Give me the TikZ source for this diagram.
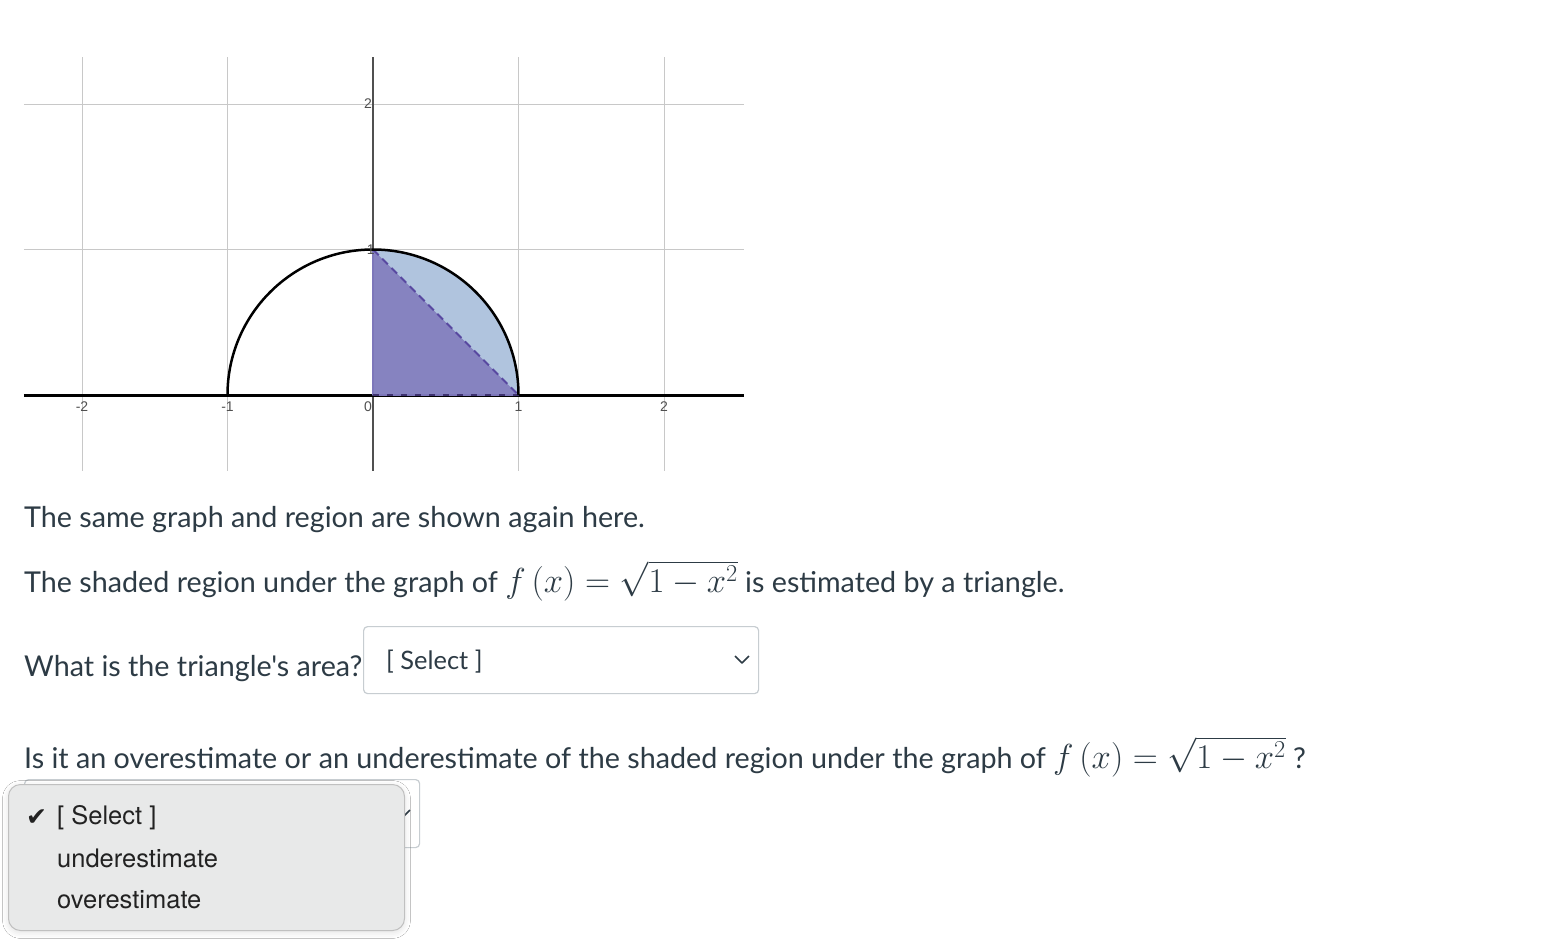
\RequirePackage{fix-cm}
\documentclass[tikz,border=0pt]{standalone}
\usepackage[no-math]{fontspec}
\usepackage{amsmath}
\setmainfont{Lato}[Ligatures=TeXOff]
\newfontfamily\tickfont{Liberation Sans}
\newfontfamily\menufont{TeX Gyre Heros}
\newfontfamily\checkfont{DejaVu Sans}
\usepackage{xcolor}
\usetikzlibrary{shadows.blur}
\definecolor{pagetext}{HTML}{2D3B45}
\definecolor{gridgray}{RGB}{200,200,200}
\definecolor{axisgray}{RGB}{80,80,80}
\definecolor{quartblue}{RGB}{176,196,222}
\definecolor{trifill}{RGB}{134,131,192}
\definecolor{tridash}{RGB}{88,72,160}
\definecolor{boxline}{RGB}{199,205,209}
\definecolor{menufill}{RGB}{232,233,233}
\definecolor{menuline}{RGB}{192,192,192}
\definecolor{menutext}{RGB}{34,34,34}
\tikzset{
  gridline/.style={gridgray, line width=1pt},
  ticklabel/.style={font=\tickfont\fontsize{14}{16}\selectfont, text=axisgray, inner sep=1pt},
  bodytext/.style={font=\fontsize{28.7}{34}\selectfont, text=pagetext, anchor=base west, inner sep=0pt},
  selectbox/.style={draw=boxline, line width=1.2pt, fill=white, rounded corners=4pt, anchor=north west},
  menuitem/.style={font=\menufont\fontsize{25.5}{30}\selectfont, text=menutext, anchor=west, inner sep=0pt}
}
\newcommand{\mathbig}[1]{{\fontsize{34.7}{40}\selectfont\smash{$#1$}}}

\begin{document}
\begin{tikzpicture}[x=1pt, y=-1pt, line join=round]
\useasboundingbox (0,0) rectangle (1554,948);
\fill[white] (0,0) rectangle (1554,948);
% Graph: origin at (373,395), one unit = 145.5px
\begin{scope}[xshift=373pt, yshift=-395pt, x=145.5pt, y=145.5pt]
% grid
\foreach \gx in {-2,-1,1,2}
  \draw[gridline] (\gx,-0.522) -- (\gx,2.323);
\foreach \gy in {1,2}
  \draw[gridline] (-2.399,\gy) -- (2.55,\gy);
% axes
\draw[axisgray, line width=2pt] (0,-0.522) -- (0,2.323);
\draw[black, line width=3pt] (-2.399,0) -- (2.55,0);
% shaded region and triangle
\coordinate (O) at (0,0);
\coordinate (P) at (1,0);
\coordinate (Q) at (0,1);
\fill[quartblue] (O) -- (Q) arc[start angle=90, end angle=0, radius=1] -- cycle;
\fill[trifill] (O) -- (Q) -- (P) -- cycle;
\draw[trifill!80!tridash, line width=2pt] (Q) -- (O) -- (P);
\draw[tridash, line width=2pt, dash pattern=on 8pt off 5pt] (Q) -- (P);
\draw[tridash!70!black, line width=2pt, dash pattern=on 6pt off 8pt] (O) -- (P);
% semicircle
\draw[black, line width=2.5pt] (-1,0) arc[start angle=180, end angle=0, radius=1];
% tick labels
\foreach \tx in {-2,-1,1,2}
  \node[ticklabel] (xt\tx) at (\tx,-0.077) {\tx};
\node[ticklabel, anchor=east] (xt0) at (0,-0.077) {0};
\node[ticklabel, anchor=east] (yt1) at (0.02,1) {1};
\node[ticklabel, anchor=east] (yt2) at (0,2) {2};
\end{scope}
% Question text
\node[bodytext] (sameline) at (24,527) {The same graph and region are shown again here.};
\node[bodytext] (shadedline) at (24,592) {The shaded region under the graph of \mathbig{f\left(x\right)=\sqrt{1-x^2}} is estimated by a triangle.};
\node[bodytext] (arealine) at (24,676) {What is the triangle's area?};
\node[bodytext] (estline) at (24,768) {Is it an overestimate or an underestimate of the shaded region under the graph of \mathbig{f\left(x\right)=\sqrt{1-x^2}} ?};
% first select box
\node[selectbox, minimum width=395pt, minimum height=67pt] (areabox) at (363,626) {};
\node[bodytext, anchor=west, font=\fontsize{25.4}{30}\selectfont] (areasel) at (386,662) {[ Select ]};
\draw[pagetext, line width=1.5pt] (735,656) -- (742,663) -- (749,656);
% second select box, mostly hidden
\node[selectbox, minimum width=395pt, minimum height=68pt] (estbox) at (24,779) {};
\draw[pagetext, line width=1.5pt] (396,810) -- (403,817) -- (410,810);
% open drop-down menu
\node[draw=menuline, line width=1pt, fill=menufill, rounded corners=12pt, minimum width=396pt, minimum height=146pt, anchor=north west,
  blur shadow={shadow xshift=0pt, shadow yshift=-2pt, shadow blur radius=6pt, shadow opacity=12}] (menu) at (8,784) {};
\node[menuitem, font=\checkfont\fontsize{25}{30}\selectfont] (tick) at (26,818) {✔};
\node[menuitem] (optselect) at (57,818) {[ Select ]};
\node[menuitem] (optunder) at (57,858) {underestimate};
\node[menuitem] (optover) at (57,900) {overestimate};
\end{tikzpicture}
\end{document}
